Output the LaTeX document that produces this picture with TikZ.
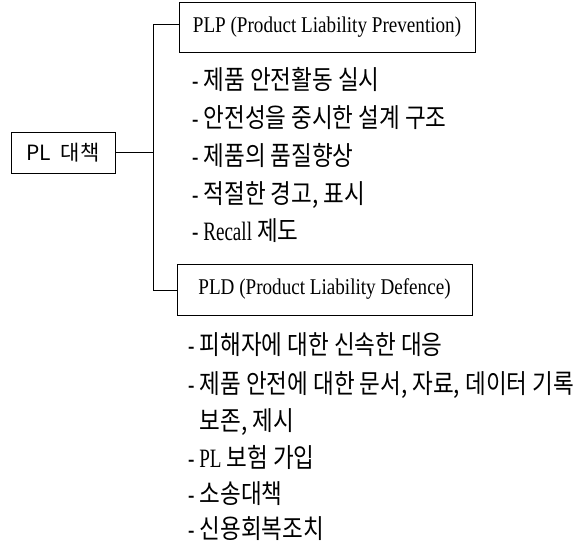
\documentclass[tikz,border=0pt]{standalone}
\usepackage{fontspec}
\setmainfont{Liberation Serif}[FakeStretch=0.85]
\newfontfamily\latn{Liberation Serif}[FakeStretch=0.72]
\newfontfamily\kr{Noto Sans CJK KR}[FakeStretch=0.85]
\newfontfamily\krbox{Noto Sans CJK KR}
\newcommand\dsh{{\latn -} }
\begin{document}
\begin{tikzpicture}[x=1pt,y=-1pt,
  box/.style={draw,line width=0.8pt,inner sep=0pt,font=\rmfamily\fontsize{22.5}{27}\selectfont},
  item/.style={anchor=base west,inner sep=0pt,text depth=0pt,font=\kr\fontsize{26.5}{30}\selectfont},
  conn/.style={line width=0.8pt}]
\useasboundingbox (0,0) rectangle (584,545);
\node[box,minimum width=104pt,minimum height=41pt,font=\krbox\fontsize{21}{24}\selectfont] (pl) at (63,152.5) {PL\hspace{0.45em}대책};
\node[box,minimum width=296pt,minimum height=50pt] (plp) at (327,27) {PLP (Product Liability Prevention)};
\node[box,minimum width=295pt,minimum height=51pt] (pld) at (324.5,289.5) {PLD (Product Liability Defence)};
\coordinate (j1) at (153,24);
\coordinate (j2) at (153,290);
\draw[conn] (pl.east) -- (pl.east -| j1);
\draw[conn] (plp.west |- j1) -- (j1) -- (j2) -- (pld.west |- j2);
% PLP items
\node[item] (p1) at (192,90) {\dsh 제품 안전활동 실시};
\node[item] (p2) at (192,128) {\dsh 안전성을 중시한 설계 구조};
\node[item] (p3) at (192,166) {\dsh 제품의 품질향상};
\node[item] (p4) at (192,204) {\dsh 적절한 경고, 표시};
\node[item] (p5) at (192,241) {{\latn - Recall} 제도};
% PLD items
\node[item] (d1) at (188,355) {\dsh 피해자에 대한 신속한 대응};
\node[item] (d2) at (188,393) {\dsh 제품 안전에 대한 문서, 자료, 데이터 기록};
\node[item] (d2b) at (188,430) {\phantom{\dsh}보존, 제시};
\node[item] (d3) at (188,467) {{\latn - PL} 보험 가입};
\node[item] (d4) at (188,503) {\dsh 소송대책};
\node[item] (d5) at (188,538) {\dsh 신용회복조치};
\end{tikzpicture}
\end{document}
